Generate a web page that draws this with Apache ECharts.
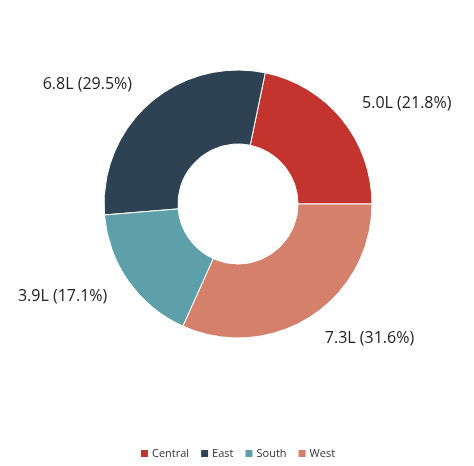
<!DOCTYPE html>
<html>
<head>
<meta charset="utf-8">
<script src="https://cdn.jsdelivr.net/npm/echarts@6/dist/echarts.min.js"></script>
<style>
html,body{margin:0;padding:0;background:#fff;}
#chart{width:474px;height:466px;}
</style>
</head>
<body>
<div id="chart"></div>
<script>
var categories = ['Central', 'East', 'South', 'West'];
var values = [5.0, 6.8, 3.9, 7.3];
var percents = [21.8, 29.5, 17.1, 31.6];
var colors = ['#c4342f', '#2d4353', '#5ea0a9', '#d4806a'];

var chart = echarts.init(document.getElementById('chart'));
var data = categories.map(function (c, i) {
  return { name: c, value: values[i], pct: percents[i], itemStyle: { color: colors[i] } };
});
chart.setOption({
  animation: false,
  legend: {
    top: 443,
    left: 'center',
    icon: 'rect',
    itemWidth: 9,
    itemHeight: 9,
    itemGap: 10,
    textStyle: { fontFamily: 'Open Sans', fontSize: 11, color: '#333', padding: [0, 0, 0, -2] },
    data: categories
  },
  series: [{
    type: 'pie',
    center: [238, 204],
    radius: [60, 134],
    startAngle: 0,
    clockwise: false,
    avoidLabelOverlap: false,
    itemStyle: { borderColor: '#fff', borderWidth: 1 },
    label: {
      show: true,
      position: 'outside',
      distanceToLabelLine: 0,
      padding: [3, 0, 0, 0],
      fontFamily: 'Open Sans',
      fontSize: 16,
      color: '#222',
      formatter: function (p) {
        return p.value.toFixed(1) + 'L (' + p.data.pct.toFixed(1) + '%)';
      }
    },
    labelLine: { show: false, length: 26, length2: 0 },
    emphasis: { disabled: true },
    data: data
  }]
});
</script>
</body>
</html>
